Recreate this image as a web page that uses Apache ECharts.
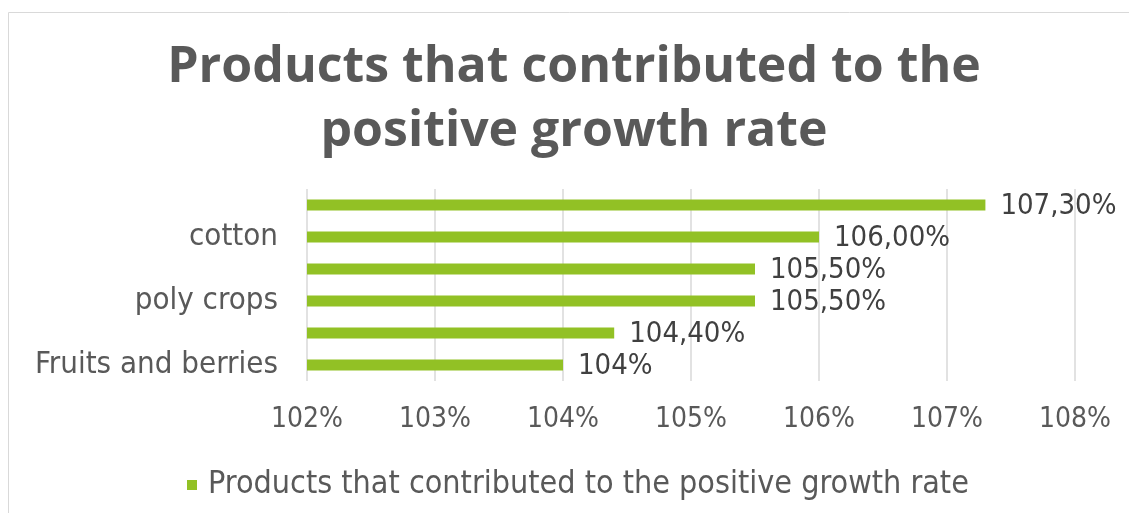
<!DOCTYPE html>
<html><head><meta charset="utf-8">
<script src="https://cdn.jsdelivr.net/npm/echarts@6/dist/echarts.min.js"></script>
<style>html,body{margin:0;padding:0;background:#fff}#c{width:1129px;height:513px}</style>
</head><body><div id="c"></div>
<script>
var categories = ['Fruits and berries', '', 'poly crops', '', 'cotton', ''];
var values = [104.0, 104.4, 105.5, 105.5, 106.0, 107.3];
var valueLabels = ['104%', '104,40%', '105,50%', '105,50%', '106,00%', '107,30%'];
var seriesName = 'Products that contributed to the positive growth rate';
var titleText = 'Products that contributed to the\npositive growth rate';

var chart = echarts.init(document.getElementById('c'), null, {renderer: 'canvas'});
chart.setOption({
  animation: false,
  graphic: [{type: 'rect', shape: {x: 8.5, y: 12.5, width: 1130, height: 520}, style: {fill: 'none', stroke: '#d9d9d9', lineWidth: 1}, z: -1}],
  title: {
    text: titleText, left: 569, textAlign: 'center', top: 31,
    textStyle: {fontFamily: 'Open Sans', fontWeight: 'bold', fontSize: 50, color: '#595959', lineHeight: 64}
  },
  legend: {
    data: [seriesName], left: 182, top: 464, icon: 'rect', itemWidth: 10, itemHeight: 10,
    textStyle: {fontFamily: 'DejaVu Sans Condensed', fontSize: 32, lineHeight: 32, color: '#595959', padding: [0, 0, 0, 6]}
  },
  grid: {left: 307, right: 54, top: 189, height: 192, containLabel: false},
  xAxis: {
    type: 'value', min: 102, max: 108, interval: 1,
    axisLine: {show: false}, axisTick: {show: false},
    splitLine: {show: true, lineStyle: {color: '#d9d9d9', width: 1.5}},
    axisLabel: {formatter: function (v) { return v + '%'; }, margin: 25,
      fontFamily: 'DejaVu Sans Condensed', fontSize: 28, color: '#595959'}
  },
  yAxis: {
    type: 'category', data: categories,
    axisLine: {show: false}, axisTick: {show: false},
    axisLabel: {interval: 0, margin: 29, fontFamily: 'DejaVu Sans Condensed', fontSize: 31, color: '#595959'}
  },
  series: [{
    name: seriesName, type: 'bar', data: values, barWidth: 11,
    itemStyle: {color: '#92C125'},
    label: {show: true, position: 'right', distance: 15,
      formatter: function (p) { return valueLabels[p.dataIndex]; },
      fontFamily: 'DejaVu Sans Condensed', fontSize: 29, color: '#404040', offset: [0, 1]}
  }]
});
</script></body></html>
